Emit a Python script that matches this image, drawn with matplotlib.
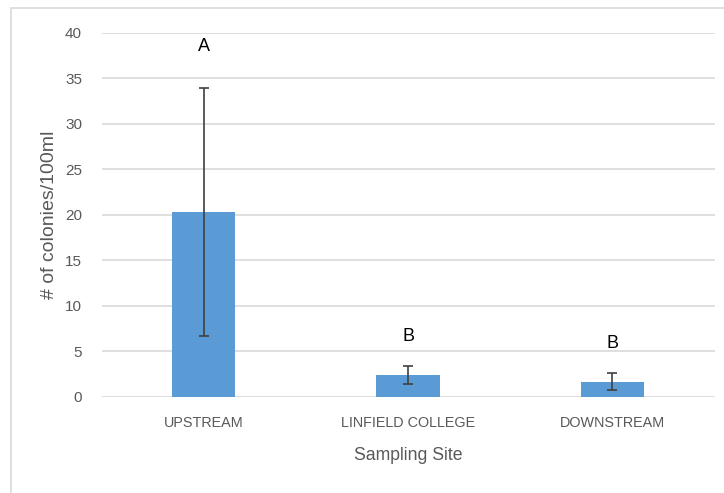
import matplotlib.pyplot as plt
import matplotlib.patches as patches

sites = ["UPSTREAM", "LINFIELD COLLEGE", "DOWNSTREAM"]
colonies = [20.3, 2.4, 1.65]
errors = [13.65, 0.95, 0.93]
letters = ["A", "B", "B"]
letter_y = [38.5, 6.6, 5.9]
yticks = [0, 5, 10, 15, 20, 25, 30, 35, 40]

plt.rcParams['font.family'] = ['Liberation Sans', 'DejaVu Sans']

fig = plt.figure(figsize=(7.24, 4.93), dpi=100)
ax = fig.add_axes([0.1402, 0.1953, 0.8467, 0.7378])

x = list(range(len(sites)))
ax.bar(x, colonies, width=0.31, color="#5b9bd5", zorder=3,
       yerr=errors, error_kw=dict(ecolor="#404040", elinewidth=1.2, capsize=3.5, capthick=1.2))

for xi, lab, ly in zip(x, letters, letter_y):
    ax.text(xi, ly, lab, ha="center", va="center", fontsize=13, color="black")

ax.set_xlim(-0.5, 2.5)
ax.set_ylim(0, 40)
ax.set_yticks(yticks)
ax.set_xticks(x)
ax.set_xticklabels(sites, fontsize=10.4)
ax.grid(axis="y", color="#d9d9d9", linewidth=1.2, zorder=0)
for s in ax.spines.values():
    s.set_visible(False)
ax.tick_params(length=0, colors="#595959")
ax.tick_params(axis="y", labelsize=11, pad=14)
ax.tick_params(axis="x", pad=14)
ax.set_xlabel("Sampling Site", fontsize=12.7, color="#595959", labelpad=12)
ax.set_ylabel("# of colonies/100ml", fontsize=14, color="#595959", labelpad=5)

fig.patches.append(patches.Rectangle((11 / 724, -0.1), 1.2, 1.1 - 8 / 493,
                                     transform=fig.transFigure, fill=False,
                                     edgecolor="#d9d9d9", linewidth=1.2))

fig.savefig("out.png", dpi=100)
